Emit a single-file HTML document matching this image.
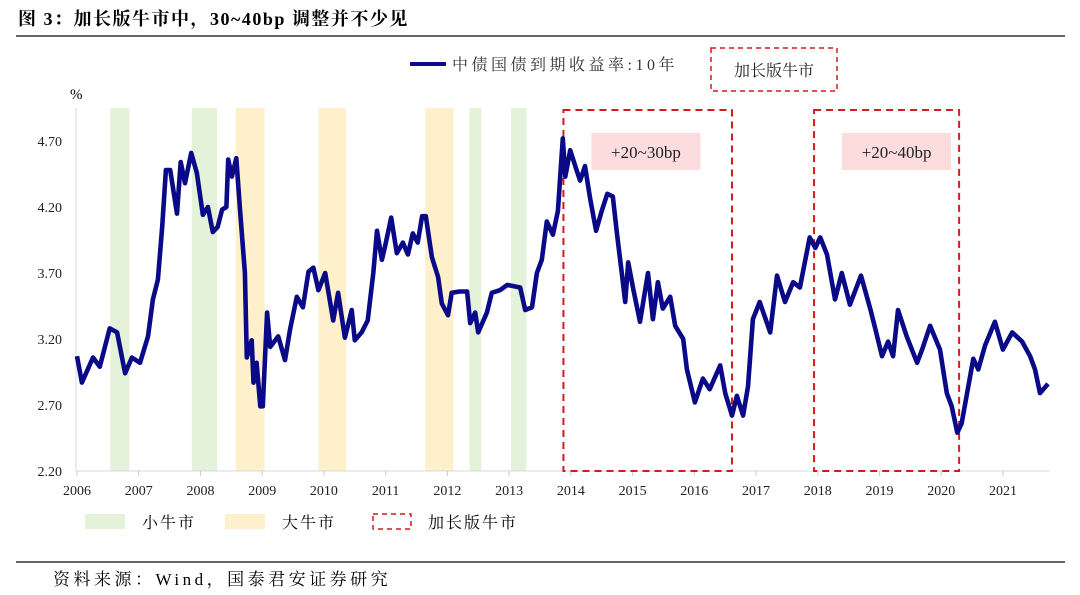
<!DOCTYPE html>
<html><head><meta charset="utf-8">
<style>
body{margin:0;background:#fff;}
#wrap{position:relative;width:1080px;height:595px;overflow:hidden;background:#fff;font-family:"Liberation Serif","Noto Serif CJK SC",serif;}
</style></head>
<body>
<div id="wrap">
<svg id="svg" width="1080" height="595" xmlns="http://www.w3.org/2000/svg">
<text x="18" y="25" font-size="18" font-weight="bold" letter-spacing="1.5" fill="#000" font-family="Liberation Serif, Noto Serif CJK SC, serif">图 3：加长版牛市中，30~40bp 调整并不少见</text>
<line x1="16" y1="36" x2="1065" y2="36" stroke="#333" stroke-width="1.5"/>
<g id="bands"></g>
<line x1="76" y1="108" x2="76" y2="471" stroke="#d9d9d9"/>
<line x1="76" y1="471" x2="1050" y2="471" stroke="#d9d9d9"/>
<g id="yticks"></g>
<g id="xticks"></g>
<text x="70" y="99" font-size="15">%</text>
<g id="boxes"></g>
<path id="line" fill="none" stroke="#0a0a88" stroke-width="4.6" stroke-linejoin="round"/>
<g>
<line x1="410" y1="64" x2="446" y2="64" stroke="#0a0a88" stroke-width="4"/>
<text x="452" y="70" font-size="16" letter-spacing="3.5" fill="#333">中债国债到期收益率:10年</text>
<rect x="711" y="48" width="126" height="43" fill="none" stroke="#d01c1c" stroke-width="1.5" stroke-dasharray="5,4"/>
<text x="774" y="76" font-size="16" text-anchor="middle" fill="#222">加长版牛市</text>
</g>
<g>
<rect x="85" y="514" width="40" height="15" fill="#e3f2d9"/>
<text x="142" y="528" font-size="16" letter-spacing="2">小牛市</text>
<rect x="225" y="514" width="40" height="15" fill="#fff0cc"/>
<text x="282" y="528" font-size="16" letter-spacing="2">大牛市</text>
<rect x="373" y="514" width="38" height="15" fill="none" stroke="#d01c1c" stroke-width="1.5" stroke-dasharray="5,4"/>
<text x="428" y="528" font-size="16" letter-spacing="2">加长版牛市</text>
</g>
<line x1="16" y1="562" x2="1065" y2="562" stroke="#333" stroke-width="1.5"/>
<text x="53" y="585" font-size="17" letter-spacing="3.5">资料来源：Wind，国泰君安证券研究</text>
</svg>
</div>
<script>
const dates=[2006.0,2006.08,2006.26,2006.37,2006.53,2006.65,2006.78,2006.89,2007.02,2007.15,2007.23,2007.31,2007.38,2007.44,2007.51,2007.62,2007.68,2007.75,2007.85,2007.94,2008.04,2008.12,2008.20,2008.28,2008.35,2008.42,2008.45,2008.51,2008.58,2008.64,2008.72,2008.75,2008.83,2008.86,2008.91,2008.97,2009.01,2009.08,2009.13,2009.26,2009.37,2009.45,2009.56,2009.66,2009.75,2009.83,2009.91,2010.02,2010.15,2010.23,2010.34,2010.45,2010.50,2010.61,2010.71,2010.80,2010.86,2010.94,2010.99,2011.09,2011.18,2011.28,2011.36,2011.44,2011.52,2011.59,2011.65,2011.75,2011.85,2011.91,2012.01,2012.07,2012.20,2012.32,2012.37,2012.45,2012.50,2012.64,2012.72,2012.85,2012.97,2013.18,2013.26,2013.37,2013.45,2013.53,2013.61,2013.71,2013.79,2013.87,2013.91,2013.99,2014.10,2014.15,2014.23,2014.31,2014.41,2014.50,2014.59,2014.68,2014.75,2014.83,2014.88,2014.93,2015.01,2015.12,2015.25,2015.33,2015.41,2015.49,2015.61,2015.69,2015.82,2015.88,2016.01,2016.14,2016.25,2016.42,2016.50,2016.61,2016.69,2016.79,2016.87,2016.95,2017.06,2017.23,2017.34,2017.47,2017.60,2017.71,2017.87,2017.96,2018.04,2018.15,2018.28,2018.39,2018.52,2018.70,2018.85,2018.93,2019.04,2019.14,2019.22,2019.30,2019.44,2019.61,2019.69,2019.82,2019.98,2020.09,2020.17,2020.26,2020.33,2020.42,2020.52,2020.60,2020.71,2020.87,2021.00,2021.15,2021.31,2021.44,2021.52,2021.60,2021.73];
const yields=[3.07,2.87,3.06,2.99,3.28,3.25,2.94,3.06,3.02,3.22,3.50,3.65,4.05,4.48,4.48,4.15,4.54,4.38,4.61,4.46,4.14,4.20,4.01,4.05,4.18,4.20,4.56,4.43,4.57,4.18,3.70,3.06,3.19,2.87,3.02,2.69,2.69,3.40,3.14,3.22,3.04,3.27,3.52,3.44,3.71,3.74,3.57,3.70,3.34,3.55,3.21,3.42,3.19,3.25,3.34,3.70,4.02,3.80,3.90,4.12,3.85,3.93,3.84,4.00,3.93,4.13,4.13,3.82,3.67,3.47,3.38,3.55,3.56,3.56,3.32,3.40,3.25,3.40,3.55,3.57,3.61,3.59,3.42,3.44,3.70,3.80,4.09,3.99,4.17,4.72,4.43,4.63,4.47,4.40,4.51,4.27,4.02,4.17,4.30,4.28,3.99,3.68,3.48,3.78,3.58,3.33,3.70,3.35,3.63,3.43,3.52,3.30,3.20,2.97,2.72,2.90,2.82,3.00,2.79,2.62,2.77,2.62,2.84,3.35,3.48,3.25,3.68,3.48,3.63,3.59,3.97,3.89,3.97,3.84,3.50,3.70,3.46,3.68,3.43,3.28,3.07,3.18,3.07,3.42,3.22,3.02,3.12,3.30,3.12,2.79,2.69,2.49,2.56,2.79,3.05,2.97,3.15,3.33,3.12,3.25,3.18,3.07,2.97,2.79,2.86];
const yTicks=[2.20,2.70,3.20,3.70,4.20,4.70];
const xYears=[2006,2007,2008,2009,2010,2011,2012,2013,2014,2015,2016,2017,2018,2019,2020,2021];
const smallBulls=[[2006.54,2006.85],[2007.86,2008.27],[2012.36,2012.55],[2013.03,2013.28]];
const bigBulls=[[2008.57,2009.04],[2009.91,2010.36],[2011.64,2012.1]];
const extendedBulls=[[2013.88,2016.61],[2017.94,2020.29]];
const extendedLabels=["+20~30bp","+20~40bp"];

const X=t=>77+(t-2006)*61.73;
const Y=v=>471-(v-2.2)*132;
const NS="http://www.w3.org/2000/svg";
function mk(tag,attrs,parent){const e=document.createElementNS(NS,tag);for(const k in attrs)e.setAttribute(k,attrs[k]);parent.appendChild(e);return e;}
const bands=document.getElementById('bands');
smallBulls.forEach(b=>{const r=mk('rect',{x:X(b[0]),y:108,width:X(b[1])-X(b[0]),height:363,fill:'#e3f2d9'},bands);

});
bigBulls.forEach(b=>{const r=mk('rect',{x:X(b[0]),y:108,width:X(b[1])-X(b[0]),height:363,fill:'#fff0cc'},bands);

});
const yt=document.getElementById('yticks');
yTicks.forEach(v=>{const t=mk('text',{x:62,y:Y(v)+5,'font-size':14,'text-anchor':'end',fill:'#222'},yt);t.textContent=v.toFixed(2);

});
const xt=document.getElementById('xticks');
xYears.forEach(yr=>{const l=mk('line',{x1:X(yr),x2:X(yr),y1:471,y2:476,stroke:'#ccc'},xt);


const t=mk('text',{x:X(yr),y:495,'font-size':14,'text-anchor':'middle',fill:'#222'},xt);t.textContent=yr;

});
const bx=document.getElementById('boxes');
extendedBulls.forEach((b,i)=>{const x0=X(b[0]),x1=X(b[1]);
const lb=mk('rect',{x:x0+28,y:133,width:109,height:37,fill:'#fcdcdc'},bx);


const t=mk('text',{x:x0+28+54.5,y:158,'font-size':17,'text-anchor':'middle',fill:'#222'},bx);t.textContent=extendedLabels[i];


const r=mk('rect',{x:x0,y:110,width:x1-x0,height:361,fill:'none',stroke:'#d01c1c','stroke-width':2,'stroke-dasharray':'7,5'},bx);

});
document.getElementById('line').setAttribute('d',dates.map((t,i)=>(i?'L':'M')+X(t).toFixed(1)+','+Y(yields[i]).toFixed(1)).join(''));
</script>
</body></html>
